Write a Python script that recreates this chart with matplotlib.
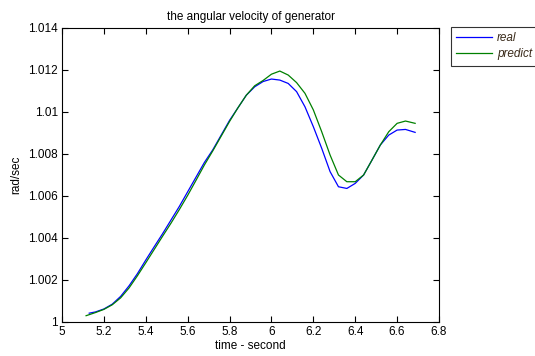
import matplotlib
matplotlib.use("Agg")
import matplotlib.pyplot as plt

plt.rcParams['font.family'] = ['Liberation Sans', 'DejaVu Sans']

t_real = [5.13, 5.16, 5.20, 5.24, 5.28, 5.32, 5.36, 5.40, 5.44, 5.48, 5.52, 5.56, 5.60,
          5.64, 5.68, 5.72, 5.76, 5.80, 5.84, 5.88, 5.92, 5.96, 6.00, 6.04, 6.08,
          6.12, 6.16, 6.20, 6.24, 6.28, 6.32, 6.36, 6.40, 6.44, 6.48, 6.52, 6.56,
          6.60, 6.64, 6.686]
v_real = [1.00042, 1.00048, 1.00062, 1.00085, 1.00122, 1.00172, 1.00230, 1.00295,
          1.00358, 1.00420, 1.00485, 1.00550, 1.00620, 1.00690, 1.00760, 1.00820,
          1.00890, 1.00960, 1.01020, 1.01080, 1.01120, 1.01145, 1.01157, 1.01152,
          1.01136, 1.01097, 1.01025, 1.00930, 1.00827, 1.00716, 1.00644, 1.00636,
          1.00660, 1.00700, 1.00771, 1.00843, 1.00890, 1.00914, 1.00917, 1.00903]

t_pred = [5.115, 5.16, 5.20, 5.24, 5.28, 5.32, 5.36, 5.40, 5.44, 5.48, 5.52, 5.56, 5.60,
          5.64, 5.68, 5.72, 5.76, 5.80, 5.84, 5.88, 5.92, 5.96, 6.00, 6.04, 6.08,
          6.12, 6.16, 6.20, 6.24, 6.28, 6.32, 6.36, 6.40, 6.44, 6.48, 6.52, 6.56,
          6.60, 6.64, 6.686]
v_pred = [1.00030, 1.00045, 1.00060, 1.00082, 1.00115, 1.00162, 1.00220, 1.00282,
          1.00345, 1.00408, 1.00470, 1.00535, 1.00603, 1.00675, 1.00748, 1.00815,
          1.00885, 1.00955, 1.01020, 1.01080, 1.01125, 1.01150, 1.01180, 1.01195,
          1.01176, 1.01140, 1.01089, 1.01010, 1.00906, 1.00795, 1.00700, 1.00668,
          1.00668, 1.00700, 1.00771, 1.00843, 1.00906, 1.00946, 1.00957, 1.00946]

x_ticks = [5, 5.2, 5.4, 5.6, 5.8, 6, 6.2, 6.4, 6.6, 6.8]
x_labels = ["5", "5.2", "5.4", "5.6", "5.8", "6", "6.2", "6.4", "6.6", "6.8"]
y_ticks = [1, 1.002, 1.004, 1.006, 1.008, 1.01, 1.012, 1.014]
y_labels = ["1", "1.002", "1.004", "1.006", "1.008", "1.01", "1.012", "1.014"]

fig = plt.figure(figsize=(5.35, 3.56), dpi=100)
ax = fig.add_axes([62/535, 1-322/356, (439-62)/535, (322-28)/356])

ax.plot(t_real, v_real, color=(0, 0, 1), lw=0.9, label='real')
ax.plot(t_pred, v_pred, color=(0, 0.5, 0), lw=0.9, label='predict')

ax.set_xlim(5, 6.8)
ax.set_ylim(1, 1.014)
ax.set_xticks(x_ticks)
ax.set_xticklabels(x_labels)
ax.set_yticks(y_ticks)
ax.set_yticklabels(y_labels)
ax.tick_params(direction='in', top=True, right=True, labelsize=8.5, length=4, width=0.8, pad=3)
for s in ax.spines.values():
    s.set_linewidth(0.8)

ax.set_title('the angular velocity of generator', fontsize=8.5, pad=6)
ax.set_xlabel('time - second', fontsize=8.5, labelpad=1)
ax.set_ylabel('rad/sec', fontsize=8.5, labelpad=4)

leg = fig.legend(loc='upper left', bbox_to_anchor=(451/535, 1-27/356),
                 fontsize=8.5, frameon=True, fancybox=False, edgecolor='black',
                 handlelength=3.0, borderpad=0.45, labelspacing=0.35, handletextpad=0.45,
                 borderaxespad=0)
leg.get_frame().set_linewidth(0.8)
for txt in leg.get_texts():
    txt.set_fontstyle('italic')
    txt.set_color('#3a2a1a')

fig.savefig('out.png', dpi=100)
